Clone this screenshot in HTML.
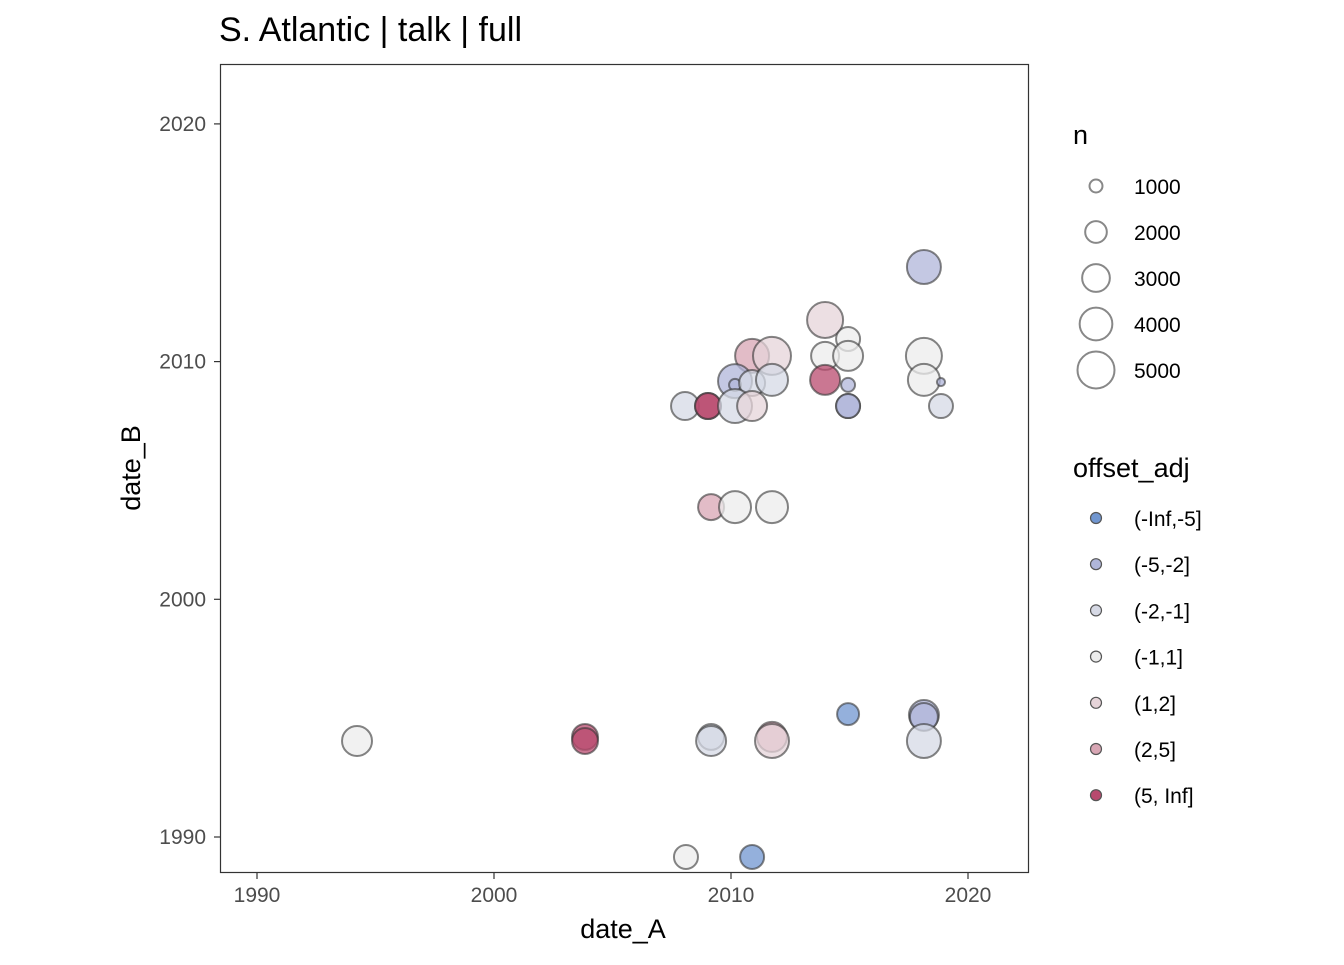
<!DOCTYPE html>
<html><head><meta charset="utf-8"><style>
body{margin:0;background:#fff;font-family:"Liberation Sans",sans-serif}
</style></head><body>
<svg id="c" width="1344" height="960" xmlns="http://www.w3.org/2000/svg" font-family="Liberation Sans, sans-serif">
<text x="219" y="41" font-size="34" fill="#000">S. Atlantic | talk | full</text>
<rect x="220.5" y="64.5" width="808" height="808" fill="#fff" stroke="#333" stroke-width="1.2"/>
<g id="axes"></g>
<g id="pts"></g>
<text x="623" y="938" font-size="27" text-anchor="middle">date_A</text>
<text transform="translate(140,468) rotate(-90)" font-size="27" text-anchor="middle">date_B</text>
<g id="legend"></g>
</svg>
<script>
const dateA=[2018.14,2013.97,2014.94,2013.97,2014.94,2013.97,2014.94,2014.94,2014.94,2010.89,2011.73,2010.17,2010.17,2010.89,2011.73,2008.06,2009.03,2009.03,2010.17,2010.89,2018.14,2018.14,2018.86,2018.86,2009.16,2010.17,2011.73,1994.22,2003.84,2003.84,2009.16,2009.16,2011.73,2011.73,2014.94,2018.14,2018.14,2018.14,2008.10,2010.89];
const dateB=[2013.98,2011.75,2010.95,2010.24,2010.24,2009.23,2009.02,2008.13,2008.13,2010.24,2010.24,2009.18,2009.02,2009.10,2009.23,2008.13,2008.13,2008.13,2008.13,2008.13,2010.24,2009.23,2009.14,2008.13,2003.88,2003.88,2003.88,1994.04,1994.21,1994.04,1994.21,1994.04,1994.21,1994.04,1995.17,1995.13,1995.05,1994.04,1989.16,1989.16];
const nVals=[4290,4760,2360,3050,3440,3440,1090,2360,2360,4290,5250,4290,920,2690,3850,3050,2690,2690,4290,3440,4760,3850,660,2360,2690,3850,3850,3440,2690,2690,2690,3440,3440,4290,2050,3440,3050,4290,2360,2360];
const groups=[1,4,3,3,3,6,1,1,1,5,4,1,1,2,2,2,6,6,2,4,3,3,1,2,5,3,3,3,6,6,2,2,5,4,0,1,1,2,3,0];
const groupLabels=["(-Inf,-5]","(-5,-2]","(-2,-1]","(-1,1]","(1,2]","(2,5]","(5, Inf]"];
const groupColors=["#7096d0","#b0b6d9","#d6d9e5","#ececec","#e6d4d9","#d8a6b4","#b84a6e"];
const xTicks=[1990,2000,2010,2020];
const yTicks=[1990,2000,2010,2020];
const sizeBreaks=[1000,2000,3000,4000,5000];
const NS="http://www.w3.org/2000/svg";
const xs=v=>257+(v-1990)*23.7;
const ys=v=>837-(v-1990)*23.77;
const rs=n=>Math.sqrt(Math.max(4,0.075*n-33));
function mk(t,a,p){const e=document.createElementNS(NS,t);for(const k in a)e.setAttribute(k,a[k]);p.appendChild(e);return e;}
const ax=document.getElementById('axes');
xTicks.forEach(t=>{
 const l=mk('line',{x1:xs(t),x2:xs(t),y1:873,y2:879,stroke:'#333','stroke-width':1.2},ax);
 
 
 const tx=mk('text',{x:xs(t),y:902,'font-size':21,'text-anchor':'middle',fill:'#4d4d4d'},ax);tx.textContent=t;
 
 
});
yTicks.forEach(t=>{
 const l=mk('line',{x1:214,x2:220,y1:ys(t),y2:ys(t),stroke:'#333','stroke-width':1.2},ax);
 
 
 const tx=mk('text',{x:206,y:ys(t)+7,'font-size':21,'text-anchor':'end',fill:'#4d4d4d'},ax);tx.textContent=t;
 
 
});
const pg=document.getElementById('pts');
dateA.forEach((a,i)=>{
 const c=mk('circle',{cx:xs(a),cy:ys(dateB[i]),r:rs(nVals[i]),fill:groupColors[groups[i]],'fill-opacity':0.75,stroke:'#333','stroke-opacity':0.6,'stroke-width':2},pg);
 
 
});
const lg=document.getElementById('legend');
const nt=mk('text',{x:1073,y:144,'font-size':27},lg);nt.textContent='n';


sizeBreaks.forEach((b,i)=>{
 const y=186+i*46;
 const c=mk('circle',{cx:1096,cy:y,r:rs(b),fill:'none',stroke:'#888','stroke-width':2},lg);
 
 
 const t=mk('text',{x:1134,y:y+8,'font-size':21},lg);t.textContent=b;
 
 
});
const ot=mk('text',{x:1073,y:477,'font-size':27},lg);ot.textContent='offset_adj';


groupLabels.forEach((g,i)=>{
 const y=518+i*46.2;
 const c=mk('circle',{cx:1096,cy:y,r:5.5,fill:groupColors[i],stroke:'#555','stroke-width':1.2},lg);
 
 
 const t=mk('text',{x:1134,y:y+8,'font-size':21},lg);t.textContent=g;
 
 
});
</script>
</body></html>
